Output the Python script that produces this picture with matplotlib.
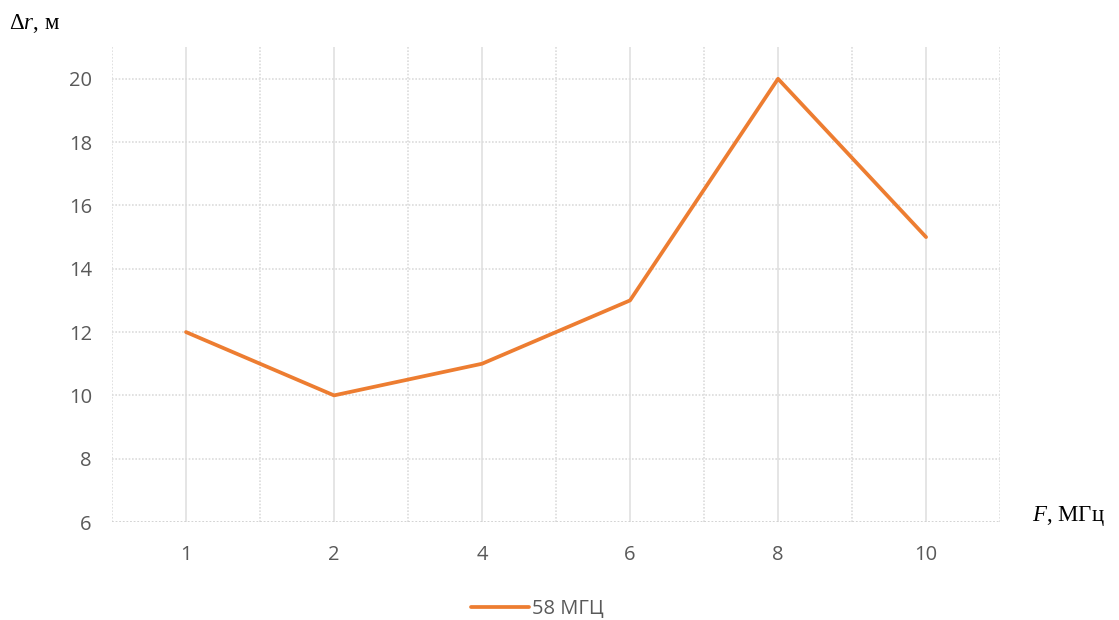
import matplotlib.pyplot as plt

# частота F, МГц и погрешность Δr, м
freq = ['1', '2', '4', '6', '8', '10']
dr = [12, 10, 11, 13, 20, 15]
series_name = '58 МГЦ'

plt.rcParams['mathtext.fontset'] = 'custom'
plt.rcParams['mathtext.rm'] = 'Liberation Serif'
plt.rcParams['mathtext.it'] = 'Liberation Serif:italic'
plt.rcParams['mathtext.sf'] = 'Liberation Serif'

fig = plt.figure(figsize=(11.19, 6.2), dpi=100)
ax = fig.add_axes([0.1001, 0.158, 0.7936, 0.766])

x = list(range(len(freq)))
line, = ax.plot(x, dr, color='#ED7D31', linewidth=2.7,
                solid_capstyle='round', solid_joinstyle='round', zorder=3)

ax.set_xlim(-0.5, len(freq) - 0.5)
ax.set_ylim(6, 21)
ax.set_xticks(x)
ax.set_xticklabels(freq)
ax.set_yticks(range(6, 21, 2))

# сетка: сплошные линии по категориям, пунктир по границам и по оси Y
for xi in x:
    ax.axvline(xi, color='#e3e3e3', linewidth=1.3, zorder=1)
for xb in [i - 0.5 for i in range(len(freq) + 1)]:
    ax.axvline(xb, color='#dcdcdc', linewidth=1.2, linestyle=(0, (1, 1)), zorder=1)
for yv in range(8, 21, 2):
    ax.axhline(yv, color='#dcdcdc', linewidth=1.2, linestyle=(0, (1, 1)), zorder=1)
ax.axhline(6, color='#d0d0d0', linewidth=1.3, linestyle=(0, (1, 1)), zorder=2)

for s in ax.spines.values():
    s.set_visible(False)
ax.tick_params(length=0, labelcolor='#595959', labelsize=14.5)
ax.tick_params(axis='y', pad=14.5)
ax.tick_params(axis='x', pad=16.5)
for lab in ax.get_xticklabels() + ax.get_yticklabels():
    lab.set_family('Open Sans')

fig.text(0.008, 0.962, r'$\Delta\mathit{r}$, м', fontsize=16.5, family='Liberation Serif',
         ha='left', va='center')
fig.text(0.922, 0.168, r'$\mathit{F}$, МГц', fontsize=16.5, family='Liberation Serif',
         ha='left', va='center')

leg = fig.legend([line], [series_name], loc='center', bbox_to_anchor=(0.48, 0.018),
                 frameon=False, handlelength=2.9, handletextpad=0.15,
                 prop={'family': 'Open Sans', 'size': 14.5})
for t in leg.get_texts():
    t.set_color('#595959')

fig.savefig('out.png', dpi=100)
